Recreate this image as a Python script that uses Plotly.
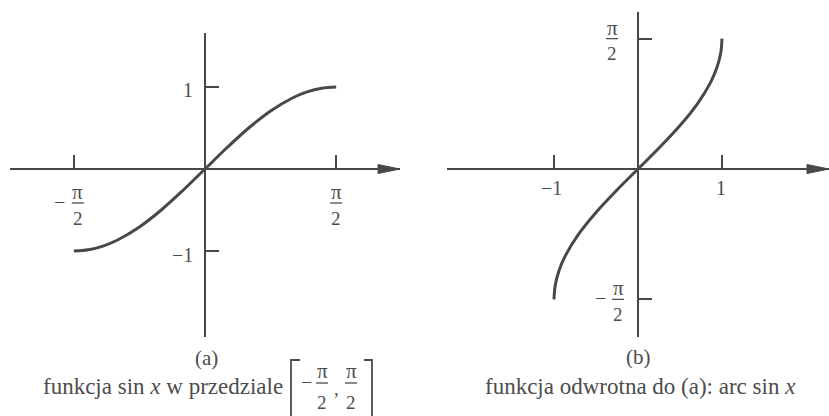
import plotly.graph_objects as go

W, H = 829, 416

# sample angles (rad) on [-pi/2, pi/2] and their sines
angles = [-1.5708, -1.3963, -1.2217, -1.0472, -0.7854, -0.5236, -0.2618, 0.0,
          0.2618, 0.5236, 0.7854, 1.0472, 1.2217, 1.3963, 1.5708]
sines = [-1.0, -0.9848, -0.9397, -0.8660, -0.7071, -0.5, -0.2588, 0.0,
         0.2588, 0.5, 0.7071, 0.8660, 0.9397, 0.9848, 1.0]

# panel (a): sin x ; panel (b): arc sin x (the same points, axes swapped)
a_x, a_y = angles, sines
b_x, b_y = sines, angles

# tick positions
a_xticks = [-1.5708, 1.5708]
a_xsigns = ["−", ""]
a_yticks = [1, -1]
a_ylabels = ["1", "−1"]
b_xticks = [-1, 1]
b_xlabels = ["−1", "1"]
b_yticks = [1.5708, -1.5708]
b_ysigns = ["", "−"]

LINE = "#484848"
TEXT = "#4c4c4c"
FONT = "Liberation Serif, Times New Roman, serif"

# panel geometry in pixels: origin, px per unit, drawing box
PA = dict(ox=205, oy=169, sx=83.5, sy=82, left=10, right=400, top=33, bottom=337)
PB = dict(ox=638, oy=169, sx=84, sy=83, left=447, right=829, top=12, bottom=337)


def xr(p):
    return [(p["left"] - p["ox"]) / p["sx"], (p["right"] - p["ox"]) / p["sx"]]


def yr(p):
    return [(p["oy"] - p["bottom"]) / p["sy"], (p["oy"] - p["top"]) / p["sy"]]


fig = go.Figure()
fig.add_trace(go.Scatter(x=a_x, y=a_y, mode="lines", xaxis="x", yaxis="y",
                         line=dict(color=LINE, width=3, shape="spline", smoothing=1),
                         hoverinfo="skip", showlegend=False))
fig.add_trace(go.Scatter(x=b_x, y=b_y, mode="lines", xaxis="x2", yaxis="y2",
                         line=dict(color=LINE, width=3, shape="spline", smoothing=1),
                         hoverinfo="skip", showlegend=False))

axis_common = dict(showline=True, linecolor=LINE, linewidth=1.5, ticks="inside",
                   ticklen=13, tickwidth=1.5, tickcolor=LINE, showticklabels=False,
                   showgrid=False, zeroline=False, fixedrange=True, anchor="free")

layout_axes = dict(
    xaxis=dict(domain=[PA["left"] / W, PA["right"] / W], range=xr(PA),
               position=1 - PA["oy"] / H, tickvals=a_xticks, **axis_common),
    yaxis=dict(domain=[1 - PA["bottom"] / H, 1 - PA["top"] / H], range=yr(PA),
               position=PA["ox"] / W, tickvals=a_yticks, **axis_common),
    xaxis2=dict(domain=[PB["left"] / W, PB["right"] / W], range=xr(PB),
                position=1 - PB["oy"] / H, tickvals=b_xticks, **axis_common),
    yaxis2=dict(domain=[1 - PB["bottom"] / H, 1 - PB["top"] / H], range=yr(PB),
                position=PB["ox"] / W, tickvals=b_yticks, **axis_common),
)

annotations = []
shapes = []


def label(text, x, y, xref, yref, dx=0, dy=0, size=20, xanchor="center"):
    annotations.append(dict(text=text, x=x, y=y, xref=xref, yref=yref,
                            xshift=dx, yshift=dy, showarrow=False,
                            xanchor=xanchor, yanchor="middle",
                            font=dict(family=FONT, size=size, color=TEXT)))


def frac_bar(x, y, xref, yref, dx, dy, half=6):
    shapes.append(dict(type="line", xref=xref, yref=yref,
                       xsizemode="pixel", xanchor=x, x0=dx - half, x1=dx + half,
                       ysizemode="pixel", yanchor=y, y0=dy, y1=dy,
                       line=dict(color=TEXT, width=1.3)))


def pi_half(sign, x, y, xref, yref, dx, dy):
    # stacked fraction  ±π/2 centred at (dx, dy) pixels from (x, y)
    label("π", x, y, xref, yref, dx, dy + 11, size=21)
    frac_bar(x, y, xref, yref, dx, dy)
    label("2", x, y, xref, yref, dx, dy - 15, size=19)
    if sign:
        label(sign, x, y, xref, yref, dx - 18, dy + 1, size=20)


# panel (a) tick labels
for t, s, dx in zip(a_xticks, a_xsigns, [4, 0]):
    pi_half(s, t, 0, "x", "y", dx, -34)
for t, s, dy in zip(a_yticks, a_ylabels, [-3, -4]):
    label(s, 0, t, "x", "y", dx=-10, dy=dy, xanchor="right")

# panel (b) tick labels
for t, s, dx in zip(b_xticks, b_xlabels, [-3, -1]):
    label(s, t, 0, "x2", "y2", dx=dx, dy=-19)
for t, s, dx in zip(b_yticks, b_ysigns, [-26, -20]):
    pi_half(s, 0, t, "x2", "y2", dx, 0)

# arrowheads on the horizontal axes
for xref, yref, p in [("x", "y", PA), ("x2", "y2", PB)]:
    shapes.append(dict(type="path", xref=xref, yref=yref,
                       xsizemode="pixel", xanchor=xr(p)[1],
                       ysizemode="pixel", yanchor=0,
                       path="M-22,-4.5 L0,0 L-22,4.5 Z",
                       fillcolor=LINE, line=dict(color=LINE, width=1)))


def px(v):
    return v / W


def py(v):
    return 1 - v / H


# captions
label("(a)", px(206), py(358), "paper", "paper", size=21)
label("(b)", px(638), py(357), "paper", "paper", size=21)
label("funkcja sin <i>x</i> w przedziale", px(285), py(386), "paper", "paper",
      size=23, xanchor="right")
label("funkcja odwrotna do (a): arc sin <i>x</i>", px(640), py(386), "paper", "paper",
      size=23)

# interval [-π/2, π/2] as a displayed fraction between brackets
for cx, s in [(322, "−"), (351, "")]:
    label("π", px(cx), py(371), "paper", "paper", size=21)
    label("2", px(cx), py(402), "paper", "paper", size=19)
    shapes.append(dict(type="line", xref="paper", yref="paper",
                       x0=px(cx - 6), x1=px(cx + 6), y0=py(383), y1=py(383),
                       line=dict(color=TEXT, width=1.3)))
    if s:
        label(s, px(cx - 16), py(382), "paper", "paper", size=20)
label(",", px(336), py(388), "paper", "paper", size=19)
shapes.append(dict(type="path", xref="paper", yref="paper",
                   path=f"M{px(300)},{py(360)} L{px(291)},{py(360)} L{px(291)},{py(420)}",
                   line=dict(color=TEXT, width=1.8)))
shapes.append(dict(type="path", xref="paper", yref="paper",
                   path=f"M{px(364)},{py(360)} L{px(372)},{py(360)} L{px(372)},{py(420)}",
                   line=dict(color=TEXT, width=1.8)))

fig.update_layout(width=W, height=H, margin=dict(l=0, r=0, t=0, b=0),
                  paper_bgcolor="white", plot_bgcolor="rgba(0,0,0,0)",
                  showlegend=False, annotations=annotations, shapes=shapes,
                  **layout_axes)

fig.write_html("out.html", config={"displayModeBar": False})
